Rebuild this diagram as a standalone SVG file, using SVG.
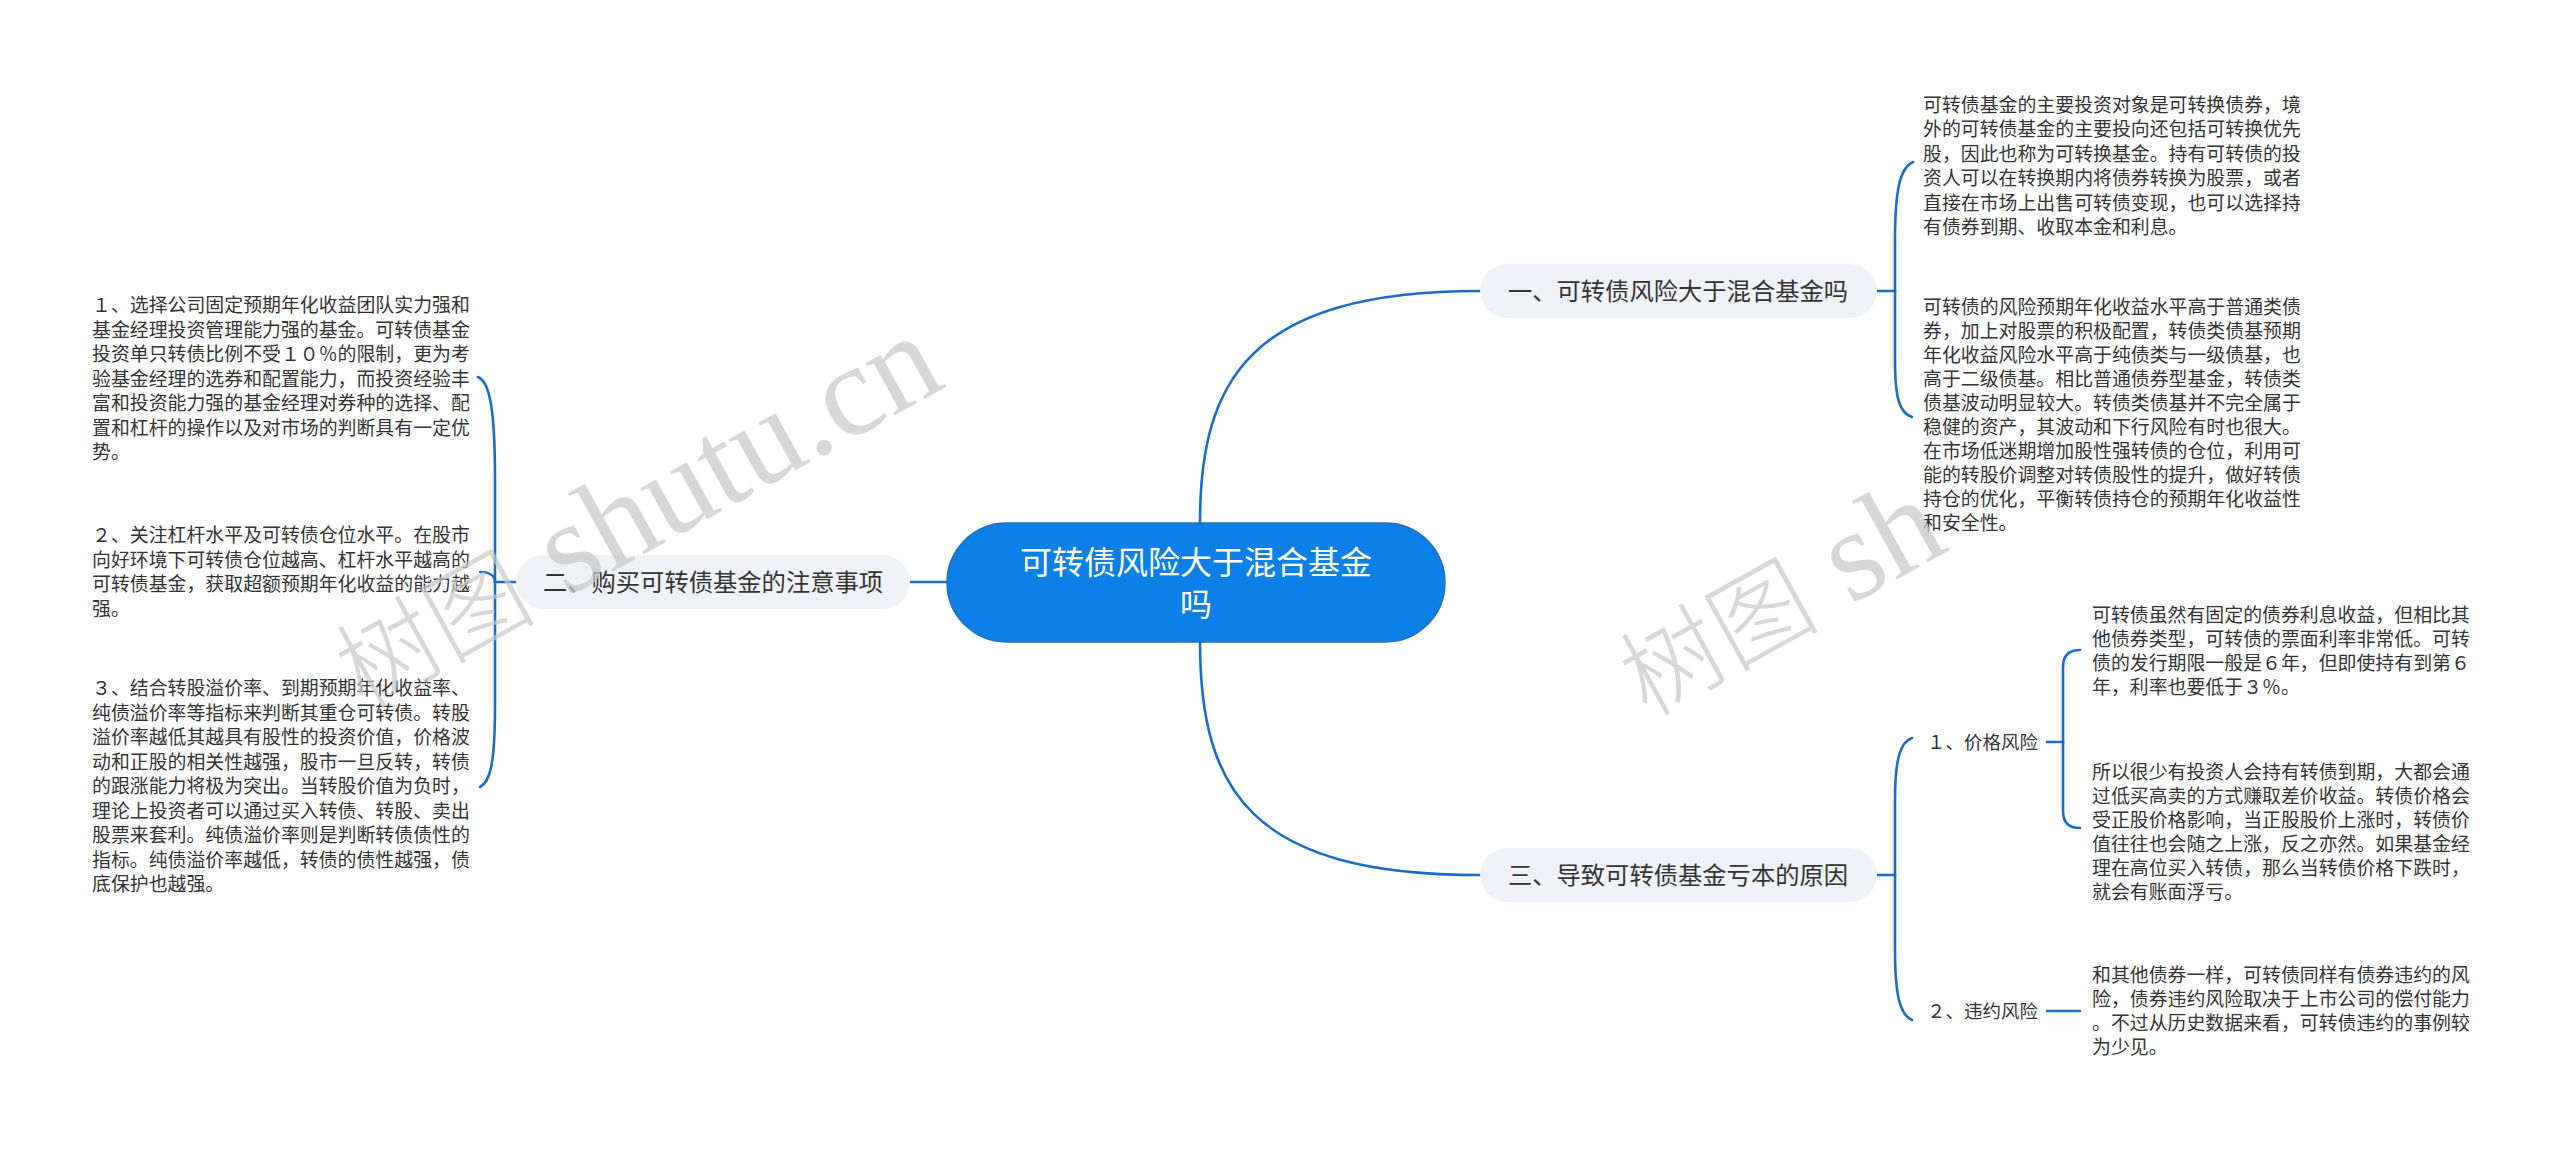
<svg xmlns="http://www.w3.org/2000/svg" width="2560" height="1150" viewBox="0 0 2560 1150">
<style>
.leaf{font-family:"Noto Sans CJK SC","Liberation Sans",sans-serif;font-size:18.9px;fill:#333333}
.pill{fill:#eef1f6}
.ptxt{font-family:"Noto Sans CJK SC","Liberation Sans",sans-serif;font-size:24.3px;fill:#333333;text-anchor:middle}
.sub{font-family:"Noto Sans CJK SC","Liberation Sans",sans-serif;font-size:18.5px;fill:#333333}
.conn{fill:none;stroke:#1a6cc6;stroke-width:2.6;stroke-linecap:round}
.wm{fill:#c8c8c8;fill-opacity:0.72}
.wmc{font-family:"Noto Sans CJK SC",sans-serif;font-size:100px;font-weight:300}
.wml{font-family:"Liberation Serif",serif;font-size:130px}
</style>
<rect width="2560" height="1150" fill="#ffffff"/>

<g id="connectors">
  <path class="conn" d="M1200 523 C1200 380 1250 291 1480 291"/>
  <path class="conn" d="M1200 641 C1200 790 1250 875 1480 875"/>
  <path class="conn" d="M947 582 H910"/>
  <path class="conn" d="M517 582 H495"/>
  <path class="conn" d="M495 582 V480 C495 410 490 382 478 377"/>
  <path class="conn" d="M495 582 C495 576 490 572 480 572"/>
  <path class="conn" d="M495 582 V705 C495 765 490 782 480 787"/>
  <path class="conn" d="M1877 291 H1895"/>
  <path class="conn" d="M1895 291 V240 C1895 190 1900 168 1913 162"/>
  <path class="conn" d="M1895 291 V360 C1895 400 1900 413 1912 417"/>
  <path class="conn" d="M1877 875 H1895"/>
  <path class="conn" d="M1895 875 V800 C1895 760 1900 742 1912 738"/>
  <path class="conn" d="M1895 875 V950 C1895 995 1900 1015 1912 1020"/>
  <path class="conn" d="M2047 742 H2063"/>
  <path class="conn" d="M2063 742 V667 Q2063 650 2080 650"/>
  <path class="conn" d="M2063 742 V811 Q2063 828 2080 828"/>
  <path class="conn" d="M2047 1011 H2080"/>
</g>

<g id="root">
  <rect x="947" y="523" width="498" height="119" rx="59.5" fill="#0d80e8" stroke="#2a6db8" stroke-width="1.5"/>
  <text x="1196" y="574" font-family="Noto Sans CJK SC, Liberation Sans, sans-serif" font-size="32" fill="#ffffff" text-anchor="middle">可转债风险大于混合基金</text>
  <text x="1196" y="616" font-family="Noto Sans CJK SC, Liberation Sans, sans-serif" font-size="32" fill="#ffffff" text-anchor="middle">吗</text>
</g>

<g id="n1">
  <rect class="pill" x="1480" y="264" width="397" height="54" rx="27"/>
  <text class="ptxt" x="1678" y="300">一、可转债风险大于混合基金吗</text>
</g>
<g id="n2">
  <rect class="pill" x="516" y="555" width="394" height="54" rx="27"/>
  <text class="ptxt" x="713" y="591">二、购买可转债基金的注意事项</text>
</g>
<g id="n3">
  <rect class="pill" x="1480" y="848" width="397" height="54" rx="27"/>
  <text class="ptxt" x="1678" y="884">三、导致可转债基金亏本的原因</text>
</g>

<g id="n1-c1">
  <text class="leaf" x="1923">
    <tspan x="1923" y="112">可转债基金的主要投资对象是可转换债券，境</tspan>
    <tspan x="1923" y="136.4">外的可转债基金的主要投向还包括可转换优先</tspan>
    <tspan x="1923" y="160.8">股，因此也称为可转换基金。持有可转债的投</tspan>
    <tspan x="1923" y="185.2">资人可以在转换期内将债券转换为股票，或者</tspan>
    <tspan x="1923" y="209.6">直接在市场上出售可转债变现，也可以选择持</tspan>
    <tspan x="1923" y="234">有债券到期、收取本金和利息。</tspan>
  </text>
</g>
<g id="n1-c2">
  <text class="leaf" x="1923">
    <tspan x="1923" y="314">可转债的风险预期年化收益水平高于普通类债</tspan>
    <tspan x="1923" y="338">券，加上对股票的积极配置，转债类债基预期</tspan>
    <tspan x="1923" y="362">年化收益风险水平高于纯债类与一级债基，也</tspan>
    <tspan x="1923" y="386">高于二级债基。相比普通债券型基金，转债类</tspan>
    <tspan x="1923" y="410">债基波动明显较大。转债类债基并不完全属于</tspan>
    <tspan x="1923" y="434">稳健的资产，其波动和下行风险有时也很大。</tspan>
    <tspan x="1923" y="458">在市场低迷期增加股性强转债的仓位，利用可</tspan>
    <tspan x="1923" y="482">能的转股价调整对转债股性的提升，做好转债</tspan>
    <tspan x="1923" y="506">持仓的优化，平衡转债持仓的预期年化收益性</tspan>
    <tspan x="1923" y="530">和安全性。</tspan>
  </text>
</g>

<g id="n2-c1">
  <text class="leaf" x="92">
    <tspan x="92" y="312">１、选择公司固定预期年化收益团队实力强和</tspan>
    <tspan x="92" y="336.5">基金经理投资管理能力强的基金。可转债基金</tspan>
    <tspan x="92" y="361">投资单只转债比例不受１０％的限制，更为考</tspan>
    <tspan x="92" y="385.5">验基金经理的选券和配置能力，而投资经验丰</tspan>
    <tspan x="92" y="410">富和投资能力强的基金经理对券种的选择、配</tspan>
    <tspan x="92" y="434.5">置和杠杆的操作以及对市场的判断具有一定优</tspan>
    <tspan x="92" y="459">势。</tspan>
  </text>
</g>
<g id="n2-c2">
  <text class="leaf" x="92">
    <tspan x="92" y="542">２、关注杠杆水平及可转债仓位水平。在股市</tspan>
    <tspan x="92" y="566.5">向好环境下可转债仓位越高、杠杆水平越高的</tspan>
    <tspan x="92" y="591">可转债基金，获取超额预期年化收益的能力越</tspan>
    <tspan x="92" y="615.5">强。</tspan>
  </text>
</g>
<g id="n2-c3">
  <text class="leaf" x="92">
    <tspan x="92" y="695">３、结合转股溢价率、到期预期年化收益率、</tspan>
    <tspan x="92" y="719.5">纯债溢价率等指标来判断其重仓可转债。转股</tspan>
    <tspan x="92" y="744">溢价率越低其越具有股性的投资价值，价格波</tspan>
    <tspan x="92" y="768.5">动和正股的相关性越强，股市一旦反转，转债</tspan>
    <tspan x="92" y="793">的跟涨能力将极为突出。当转股价值为负时，</tspan>
    <tspan x="92" y="817.5">理论上投资者可以通过买入转债、转股、卖出</tspan>
    <tspan x="92" y="842">股票来套利。纯债溢价率则是判断转债债性的</tspan>
    <tspan x="92" y="866.5">指标。纯债溢价率越低，转债的债性越强，债</tspan>
    <tspan x="92" y="891">底保护也越强。</tspan>
  </text>
</g>

<g id="n3-1">
  <text class="sub" x="1927" y="749">１、价格风险</text>
</g>
<g id="n3-2">
  <text class="sub" x="1927" y="1018">２、违约风险</text>
</g>

<g id="n3-1-c1">
  <text class="leaf" x="2092">
    <tspan x="2092" y="622">可转债虽然有固定的债券利息收益，但相比其</tspan>
    <tspan x="2092" y="646">他债券类型，可转债的票面利率非常低。可转</tspan>
    <tspan x="2092" y="670">债的发行期限一般是６年，但即使持有到第６</tspan>
    <tspan x="2092" y="694">年，利率也要低于３％。</tspan>
  </text>
</g>
<g id="n3-1-c2">
  <text class="leaf" x="2092">
    <tspan x="2092" y="779">所以很少有投资人会持有转债到期，大都会通</tspan>
    <tspan x="2092" y="803">过低买高卖的方式赚取差价收益。转债价格会</tspan>
    <tspan x="2092" y="827">受正股价格影响，当正股股价上涨时，转债价</tspan>
    <tspan x="2092" y="851">值往往也会随之上涨，反之亦然。如果基金经</tspan>
    <tspan x="2092" y="875">理在高位买入转债，那么当转债价格下跌时，</tspan>
    <tspan x="2092" y="899">就会有账面浮亏。</tspan>
  </text>
</g>
<g id="n3-2-c1">
  <text class="leaf" x="2092">
    <tspan x="2092" y="982">和其他债券一样，可转债同样有债券违约的风</tspan>
    <tspan x="2092" y="1006">险，债券违约风险取决于上市公司的偿付能力</tspan>
    <tspan x="2092" y="1030">。不过从历史数据来看，可转债违约的事例较</tspan>
    <tspan x="2092" y="1054">为少见。</tspan>
  </text>
</g>

<g id="watermarks">
  <text class="wm" transform="translate(363 710) rotate(-29)"><tspan class="wmc">树图</tspan><tspan class="wml"> shutu.cn</tspan></text>
  <text class="wm" transform="translate(1647 718) rotate(-29)"><tspan class="wmc">树图</tspan><tspan class="wml"> sh</tspan></text>
</g>
</svg>
